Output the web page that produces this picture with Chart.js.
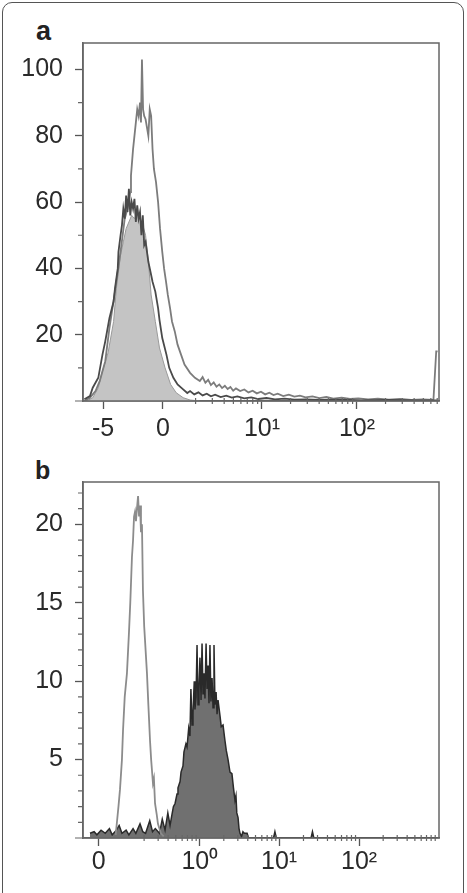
<!DOCTYPE html>
<html>
<head>
<meta charset="utf-8">
<script src="https://cdn.jsdelivr.net/npm/chart.js@4"></script>
<style>
  body { margin:0; background:#fff; width:467px; height:893px; overflow:hidden; position:relative; font-family:"Liberation Sans", Arial, sans-serif; }
  .frame { position:absolute; left:2px; top:2px; width:462px; height:940px; border:1px solid #555; border-radius:10px; box-sizing:border-box; }
  canvas { position:absolute; left:0; }
  .tag { position:absolute; font-weight:bold; color:#222; line-height:1; }
</style>
</head>
<body>
<div class="frame"></div>
<div class="tag" style="left:36px; top:18px; font-size:27px;">a</div>
<div class="tag" style="left:35px; top:458px; font-size:25px;">b</div>
<canvas id="chartA" width="467" height="440" style="top:0"></canvas>
<canvas id="chartB" width="467" height="453" style="top:440px"></canvas>
<script>
// channel axis 0..256, counts on y
// panel a
const aTickPos = [14.4, 57.5, 128.7, 197];
const aTickLabels = ["-5", "0", "10\u00b9", "10\u00b2"];
const aYTicks = [20, 40, 60, 80, 100];
const aFilled = [[0,0],[4,0.3],[7,1],[11,4],[14,9],[18,14.5],[22,24],[24,34],[27,44],[29,48],[31,52],[33,54],[35,56],[37,55],[39,57],[41,55],[43,53],[45,50],[47,42],[49,32],[52,24],[55,16],[59,10],[63,5],[67,2.5],[72,1],[77,0.3],[84,0]];
const aDark = [[1,0.5],[5,1.5],[7,4],[11,7],[14,14],[16,18],[19,25],[22,30],[23,34],[25,40],[25.5,45],[27,50],[28,53],[29,58],[30,55],[31,62],[32,57],[33,64],[34,56],[35,60],[36,58],[37,61],[38,54],[39,59],[40,55],[41,57],[42,50],[43,56],[44,47],[45,48],[47,42],[49,38],[50,36],[52,33],[54,28],[55,24.5],[57,19],[60,14],[62,10],[65,7],[68,5],[72,3.5],[75,2.4],[77,3],[80,2],[83,2.6],[86,1.7],[89,2.2],[92,1.4],[95,1.9],[99,1.2],[103,1.6],[107,1],[111,1.4],[116,0.8],[121,1.1],[126,0.6],[132,0.9],[138,0.5],[145,0.7],[152,0.4],[160,0.5],[170,0.3],[185,0.4],[200,0.2],[220,0.3],[240,0.2],[255,0.2]];
const aTall = [[1,0],[5,1],[9,3],[12,6],[16,12],[19,22],[23,33],[27,45],[30,55],[32,58],[34,63],[34.5,68],[36,76],[37,80],[38,84],[39,88],[40,86],[41,90],[41.7,84],[42.4,103],[43.2,88],[44,86],[45,85],[47,80],[48,88],[49,86],[50,76],[51,70],[52.5,66],[54,60],[55.4,52],[57,45],[58.3,40],[59.7,36],[61,32],[62.6,28],[64,24],[66,21],[68,17],[70.5,14],[73,11],[77,8.5],[80.5,7],[84,6],[86,7.2],[88,5.5],[90,6.4],[92,4.8],[94,5.6],[96,4.3],[98,5],[100,3.9],[102,4.6],[104,3.6],[106,4.2],[108,3.1],[110,3.8],[113,3],[116,3.5],[119,2.6],[122,3.1],[125,2.3],[128,2.8],[131,2],[134,2.5],[137,1.8],[140,2.2],[144,1.5],[148,1.9],[152,1.3],[156,1.6],[160,1.1],[165,1.4],[170,0.9],[175,1.2],[180,0.7],[186,1],[192,0.6],[198,0.8],[205,0.5],[212,0.7],[220,0.4],[228,0.6],[236,0.3],[244,0.5],[252,0.3],[254,15],[255,15]];

// panel b
const bTickPos = [11.3, 84, 141, 198.5];
const bTickLabels = ["0", "10\u2070", "10\u00b9", "10\u00b2"];
const bYTicks = [5, 10, 15, 20];
const bOpen = [[23.5,0.2],[24.5,1.1],[25.5,2],[26.6,3.1],[28,5],[28.8,6.9],[30,9],[31.6,10.5],[33,13],[34,15],[35.2,17.9],[36,19],[36.7,20.5],[37.4,20.8],[38.1,20.2],[38.8,21],[39.6,21.8],[40.3,20.5],[41,21.2],[41.7,19.5],[42.4,20],[43.1,15.8],[44,13.5],[46,10.5],[47,8.5],[48.2,6.2],[49,5],[50.3,3.5],[51,3.8],[51.8,2.2],[53,1.5],[53.9,0.9],[56,0.3],[58,0.1]];
const bFilled = [[5,0.3],[8,0.4],[10,0.2],[13,0.5],[16,0.3],[19,0.6],[21,0.2],[24,0.5],[26,0.8],[28,0.3],[31,0.5],[33,0.2],[36,0.6],[38,0.3],[41,0.9],[43,0.4],[45,0.3],[48,1.1],[50,0.4],[52,0.6],[55,0.3],[57,1.2],[59,0.5],[61,1.6],[62.6,0.8],[64,1.5],[65,2],[66.2,2.2],[67.6,2.8],[68.3,3.2],[69.8,3.6],[70.5,4.2],[71.9,4.6],[72.6,5.5],[74,6],[74.8,5.8],[76,7],[76.9,6.5],[77.6,9.5],[78.4,7.2],[79.1,8],[80,10],[80.5,8.2],[81.3,9],[82,12.3],[82.7,8.5],[83.4,9.5],[84.1,11.5],[84.9,8.8],[85.6,12.4],[86.3,9.2],[87,10.5],[87.7,8.9],[88.5,12.4],[89.2,9.5],[89.9,11],[90.6,8.6],[91.3,12.3],[92,8.7],[92.8,10.2],[93.5,8.3],[94.2,12.3],[94.9,8.5],[95.7,9.3],[96.4,7.9],[97.1,8.8],[98.5,7.8],[99.4,7.1],[100.7,7.2],[102.1,6.2],[103,5.6],[104.3,5],[105.7,4.2],[107.1,4.1],[108.2,3.2],[109.3,2.4],[110,2.7],[110.6,1.6],[111.5,1.3],[112.2,0.6],[112.9,0.3],[114,0.1],[115,0.4],[116,0.3],[118,0.3],[119,0],[137,0],[138,0.4],[139,0],[164,0],[165,0.4],[166,0],[255,0]];

const toXY = arr => arr.map(p => ({x: p[0], y: p[1]}));

function minorTicks(decadeStart, width, from, to) {
    const out = [];
    for (let d = from; d < to; d++) {
        for (let k = 2; k <= 9; k++) {
            const v = decadeStart + (d + Math.log10(k)) * width;
            if (v > 0 && v < 256) out.push(v);
        }
    }
    return out;
}

const boxPlugin = {
    id: 'box',
    afterDraw(chart, args, opts) {
        const ctx = chart.ctx, a = chart.chartArea;
        const xs = chart.scales.x, ys = chart.scales.y;
        ctx.save();
        ctx.strokeStyle = '#666';
        ctx.lineWidth = 1.5;
        ctx.strokeRect(a.left, a.top, a.right - a.left, a.bottom - a.top);
        ctx.beginPath();
        ctx.moveTo(a.left - 8, a.bottom);
        ctx.lineTo(a.left, a.bottom);
        ctx.lineWidth = 1.2;
        opts.minorY.forEach(v => {
            const y = ys.getPixelForValue(v);
            ctx.moveTo(a.left - 5, y);
            ctx.lineTo(a.left, y);
        });
        opts.minorX.forEach(v => {
            const x = xs.getPixelForValue(v);
            ctx.moveTo(x, a.bottom - 3);
            ctx.lineTo(x, a.bottom + 3);
        });
        ctx.stroke();
        ctx.restore();
    }
};

function makeChart(id, datasets, o) {
    return new Chart(document.getElementById(id), {
        type: 'line',
        data: { datasets: datasets },
        options: {
            responsive: false,
            animation: false,
            events: [],
            layout: { padding: { left: 0, top: o.top, right: 28, bottom: 0 } },
            plugins: {
                legend: { display: false },
                tooltip: { enabled: false },
                box: { minorX: o.minorX, minorY: o.minorY }
            },
            elements: { point: { radius: 0 }, line: { tension: 0 } },
            scales: {
                x: {
                    type: 'linear', min: 0, max: 256,
                    afterBuildTicks: s => { s.ticks = o.xPos.map(v => ({value: v})); },
                    afterFit: s => { s.height = o.xh; },
                    ticks: {
                        autoSkip: false, maxRotation: 0, padding: o.xpad,
                        color: '#2a2a2a', font: { family: 'Liberation Sans', size: 25 },
                        callback: (v, i) => o.xLabels[i]
                    },
                    grid: { drawOnChartArea: false, tickLength: 8, color: '#555', tickWidth: 1.3 },
                    border: { display: true, color: '#666', width: 1.5 }
                },
                y: {
                    type: 'linear', min: 0, max: o.ymax,
                    afterBuildTicks: s => { s.ticks = o.yTicks.map(v => ({value: v})); },
                    afterFit: s => { s.width = 83; },
                    ticks: {
                        padding: 12, color: '#2a2a2a',
                        font: { family: 'Liberation Sans', size: 25 }
                    },
                    grid: { drawOnChartArea: false, tickLength: 8, color: '#555', tickWidth: 1.3 },
                    border: { display: true, color: '#666', width: 1.5 }
                }
            }
        },
        plugins: [boxPlugin]
    });
}

makeChart('chartA', [
    { data: toXY(aDark), borderColor: '#4a4a4a', borderWidth: 1.8, fill: false, order: 1 },
    { data: toXY(aTall), borderColor: '#7c7c7c', borderWidth: 1.8, fill: false, order: 2 },
    { data: toXY(aFilled), borderColor: '#9a9a9a', borderWidth: 1, backgroundColor: '#c4c4c4', fill: 'origin', order: 3 }
], {
    top: 43, xh: 39, xpad: 5, ymax: 108,
    xPos: aTickPos, xLabels: aTickLabels, yTicks: aYTicks,
    minorY: [10, 30, 50, 70, 90],
    minorX: minorTicks(128.7, 68.3, -1, 2)
});

makeChart('chartB', [
    { data: toXY(bOpen), borderColor: '#8c8c8c', borderWidth: 1.8, fill: false, order: 1 },
    { data: toXY(bFilled), borderColor: '#2a2a2a', borderWidth: 1.5, backgroundColor: '#707070', fill: 'origin', order: 2 }
], {
    top: 42, xh: 55, xpad: 1, ymax: 22.7,
    xPos: bTickPos, xLabels: bTickLabels, yTicks: bYTicks,
    minorY: [1,2,3,4,6,7,8,9,11,12,13,14,16,17,18,19,21,22],
    minorX: minorTicks(84, 57.3, -1, 3)
});
</script>
</body>
</html>
